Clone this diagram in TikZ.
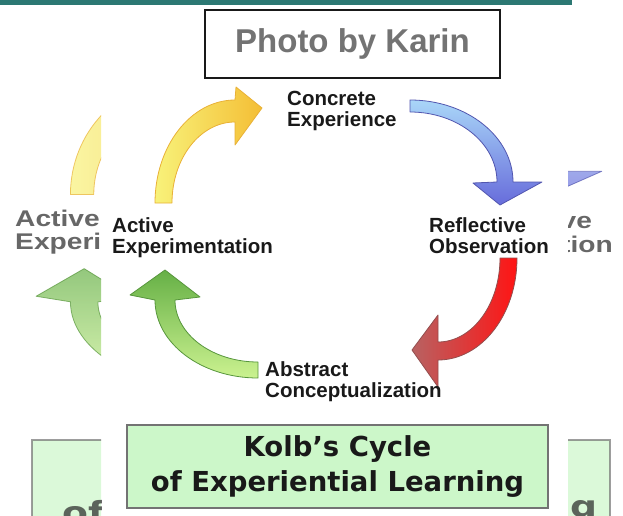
\documentclass[tikz,border=0pt]{standalone}
\usepackage{fontspec}
\newfontfamily\labelfont{Liberation Sans}
\newfontfamily\titlefont{DejaVu Sans}
\usepackage{tikz}
\usetikzlibrary{positioning}

\definecolor{barteal}{HTML}{2C7873}
\definecolor{boxgreen}{HTML}{CCF7C9}
\definecolor{yellowlight}{HTML}{F8F27A}
\definecolor{yellowdark}{HTML}{F4BE35}
\definecolor{bluelight}{HTML}{A9D6F8}
\definecolor{bluedark}{HTML}{676CDB}
\definecolor{redbright}{HTML}{FF1414}
\definecolor{reddull}{HTML}{B86262}
\definecolor{greenlight}{HTML}{CBF290}
\definecolor{greendark}{HTML}{66B046}

\tikzset{
	steplabel/.style={font=\labelfont\bfseries\fontsize{20.5}{21}\selectfont, align=left, anchor=west, inner sep=0pt, text=black!90},
	sidelabel/.style={steplabel, text=black!85},
	sidetitle/.style={font=\titlefont\bfseries\fontsize{27.5}{35}\selectfont, anchor=west, inner sep=0pt, text=black!85},
	cyclearrow/.style={line width=0.8pt, line join=round},
	titlebox/.style={draw=black!55, line width=1.5pt, fill=boxgreen, minimum width=421pt, minimum height=83pt,
		align=center, font=\titlefont\bfseries\fontsize{27.5}{35}\selectfont, text=black!90},
	photobox/.style={draw=black!90, line width=1.5pt, minimum width=295pt, minimum height=68pt,
		font=\labelfont\bfseries\fontsize{33}{36}\selectfont, text=black!55}
}

% the four curved arrows of the cycle
\newcommand{\kolbarrows}{%
	% yellow
	\shadedraw[cyclearrow, draw=yellowdark!80!brown, left color=yellowlight, right color=yellowdark]
		(155,203) arc[start angle=180, end angle=270, x radius=80, y radius=103]
		-- (236,87) -- (262,108) -- (235,145) -- (235,122)
		arc[start angle=270, end angle=180, x radius=63, y radius=81] -- cycle;
	% blue
	\shadedraw[cyclearrow, draw=bluedark!80!black, top color=bluelight, bottom color=bluedark]
		(410,100) arc[start angle=270, end angle=360, x radius=103, y radius=82]
		-- (542,182) -- (500,205) -- (473,183) -- (497,182)
		arc[start angle=0, end angle=-90, x radius=87, y radius=70] -- cycle;
	% red
	\shadedraw[cyclearrow, draw=reddull!80!black, left color=reddull, middle color=redbright, right color=redbright]
		(500,258) -- (517,258) arc[start angle=0, end angle=90, x radius=79, y radius=102]
		-- (438,387) -- (412,350) -- (438,315) -- (438,342)
		arc[start angle=90, end angle=0, x radius=62, y radius=84] -- cycle;
	% green
	\shadedraw[cyclearrow, draw=greendark!85!black, top color=greendark, bottom color=greenlight]
		(258,362) -- (258,378) arc[start angle=90, end angle=180, x radius=103, y radius=78]
		-- (130,295) -- (165,270) -- (200,297) -- (175,300)
		arc[start angle=180, end angle=90, x radius=83, y radius=62] -- cycle;
}

\begin{document}
\begin{tikzpicture}[x=1pt,y=-1pt]
	\useasboundingbox (0,0) rectangle (623,516);
	% stretched copy behind, seen at the sides
	\begin{scope}
		\clip (0,5) rectangle (101,516) (568,5) rectangle (623,516);
		\begin{scope}[shift={(381.7,283)}, xscale=1.373, yscale=1.106, shift={(-381.7,-283)}, transform shape, opacity=0.7]
			\kolbarrows
			\filldraw[draw=black!55, line width=1.5pt, fill=boxgreen] (127,425) rectangle (548,508);
			\node[sidelabel] (bgactive) at (114.6,237) {Active\\Experi};
			\node[sidelabel, anchor=east] (bgve) at (535,228) {ve};
			\node[sidelabel, anchor=east] (bgtion) at (550.2,247.7) {tion};
			\node[sidetitle] (bgof) at (148.8,490) {of};
			\node[sidetitle] (bgg) at (518.8,490) {g};
		\end{scope}
	\end{scope}
	% the cycle
	\kolbarrows
	\node[steplabel] (concrete) at (287,111) {Concrete\\Experience};
	\node[steplabel] (reflective) at (429,236) {Reflective\\Observation};
	\node[steplabel] (active) at (112,238) {Active\\Experimentation};
	\node[steplabel] (abstract) at (265,382) {Abstract\\Conceptualization};
	\node[titlebox] (title) at (337.5,466.5) {Kolb’s Cycle\\of Experiential Learning};
	\fill[barteal] (0,0) rectangle (572,5);
	\node[photobox] (photo) at (352.5,44) {Photo by Karin};
\end{tikzpicture}
\end{document}
